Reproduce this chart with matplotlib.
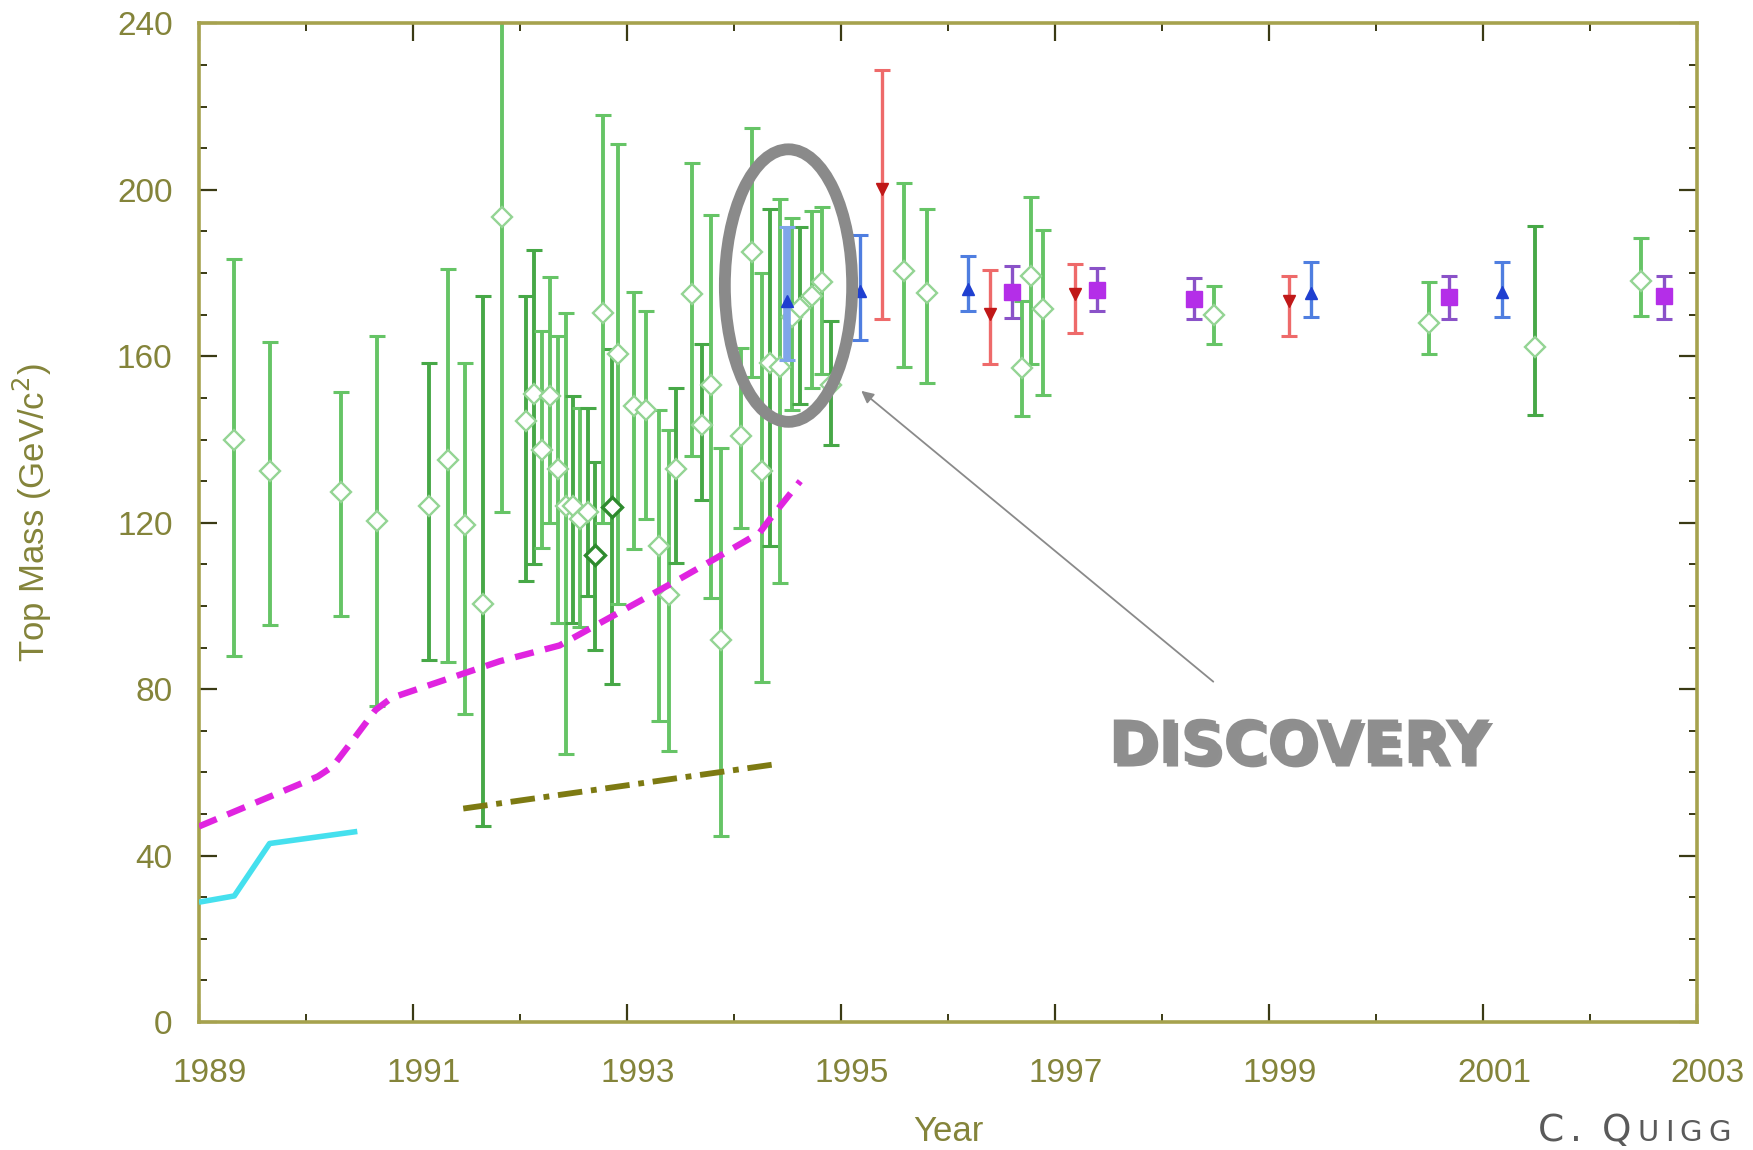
import numpy as np
import matplotlib
matplotlib.use("Agg")
import matplotlib.pyplot as plt
from matplotlib.patches import Ellipse
import matplotlib.patheffects as pe
import matplotlib.transforms as mtransforms
from matplotlib.ticker import MultipleLocator

# ---------------- data ----------------
green_year = [1989.33, 1989.66, 1990.33, 1990.66, 1991.15, 1991.33, 1991.49, 1991.65, 1991.83,
              1992.06, 1992.13, 1992.21, 1992.28, 1992.36, 1992.43, 1992.50, 1992.56, 1992.64,
              1992.70, 1992.78, 1992.86, 1992.92, 1993.07, 1993.18, 1993.30, 1993.39, 1993.46,
              1993.61, 1993.70, 1993.79, 1993.88, 1994.07, 1994.17, 1994.26, 1994.34, 1994.43,
              1994.54, 1994.62, 1994.73, 1994.82, 1994.91, 1995.59, 1995.80, 1996.69, 1996.78,
              1996.89, 1998.49, 2000.50, 2001.49, 2002.48]
green_mass = [140.0, 132.5, 127.5, 120.5, 124.0, 135.0, 119.5, 100.5, 193.5,
              144.5, 151.0, 137.5, 150.5, 133.0, 124.0, 124.0, 121.0, 122.5,
              112.3, 170.5, 123.7, 160.5, 148.0, 147.0, 114.3, 102.7, 133.0,
              175.0, 143.6, 153.0, 91.7, 140.8, 185.0, 132.5, 158.5, 157.5,
              169.5, 171.7, 174.5, 177.8, 153.0, 180.5, 175.3, 157.3, 179.3,
              171.3, 170.0, 168.0, 162.2, 178.2]
green_hi = [183.5, 163.5, 151.5, 165.0, 158.5, 181.0, 158.5, 174.5, 250.0,
            174.5, 185.5, 166.0, 179.0, 165.0, 170.5, 150.5, 147.5, 147.5,
            134.7, 218.0, 161.8, 211.0, 175.5, 171.0, 147.0, 142.4, 152.4,
            206.5, 163.0, 194.0, 138.0, 162.0, 214.8, 180.0, 195.5, 197.7,
            193.3, 191.0, 195.0, 196.0, 168.4, 201.6, 195.5, 173.3, 198.3,
            190.3, 177.0, 177.8, 191.2, 188.4]
green_lo = [88.0, 95.5, 97.5, 76.0, 87.0, 86.5, 74.0, 47.0, 122.5,
            106.0, 110.0, 114.0, 120.0, 96.0, 64.5, 96.0, 95.0, 102.5,
            89.4, 120.0, 81.2, 100.5, 113.7, 121.0, 72.3, 65.2, 110.4,
            136.0, 125.4, 102.0, 44.8, 118.7, 155.0, 81.8, 114.3, 105.5,
            147.0, 148.6, 152.4, 155.7, 138.6, 157.5, 153.5, 145.6, 158.1,
            150.8, 163.0, 160.6, 146.0, 169.8]
green_dark_bar = [0, 0, 0, 0, 1, 0, 0, 1, 0,
                  1, 1, 0, 0, 0, 0, 1, 0, 1,
                  1, 0, 1, 0, 0, 0, 0, 0, 1,
                  0, 1, 0, 0, 0, 0, 0, 1, 0,
                  0, 1, 0, 0, 1, 0, 0, 0, 0,
                  0, 0, 0, 1, 0]
green_dark_marker = [0] * 18 + [1, 0, 1] + [0] * 29

blue_year = [1994.50, 1995.18, 1996.19, 1999.39, 2001.18]
blue_mass = [173.4, 175.6, 176.1, 175.2, 175.4]
blue_hi = [191.0, 189.1, 184.0, 182.6, 182.6]
blue_lo = [159.0, 163.9, 170.9, 169.4, 169.4]

red_year = [1995.38, 1996.39, 1997.19, 1999.19]
red_mass = [200.2, 170.1, 174.9, 173.2]
red_hi = [228.7, 180.7, 182.1, 179.4]
red_lo = [169.0, 158.1, 165.5, 164.8]

purple_year = [1996.60, 1997.39, 1998.30, 2000.68, 2002.69]
purple_mass = [175.5, 175.9, 173.8, 174.2, 174.4]
purple_hi = [181.6, 181.2, 178.8, 179.4, 179.4]
purple_lo = [169.3, 171.0, 169.0, 169.0, 169.0]

cyan_year = [1989.0, 1989.33, 1989.66, 1990.48]
cyan_mass = [28.8, 30.3, 42.9, 45.8]

magenta_year = [1989.0, 1990.11, 1990.25, 1990.44, 1990.65, 1990.80, 1991.81, 1992.37,
                1992.72, 1993.15, 1993.50, 1993.84, 1994.24, 1994.34, 1994.62]
magenta_mass = [47.0, 59.0, 61.4, 67.8, 75.0, 77.9, 86.7, 90.5,
                95.5, 101.6, 106.6, 111.6, 117.6, 121.0, 130.0]

olive_year = [1991.47, 1994.40]
olive_mass = [51.3, 62.0]

x_ticks = [1989, 1991, 1993, 1995, 1997, 1999, 2001, 2003]
y_ticks = [0, 40, 80, 120, 160, 200, 240]

# annotation geometry
ring_center = (1994.51, 177.0)
ring_size = (1.19, 65.5)
arrow_head = (1995.19, 151.7)
arrow_tail = (1998.48, 81.8)
label_pos = (1999.28, 66.2)

# ---------------- drawing ----------------
plt.rcParams['font.family'] = ['Liberation Sans', 'DejaVu Sans']

fig = plt.figure(figsize=(17.53, 11.5), dpi=100)
ax = fig.add_axes([0.1135, 0.1113, 0.8545, 0.8683])

LIGHT = '#66c466'
DARK = '#47a847'

for i in range(len(green_year)):
    bar_c = DARK if green_dark_bar[i] else LIGHT
    m = green_mass[i]
    mk_edge = '#2e8b2e' if green_dark_marker[i] else '#94d494'
    mk_lw = 2.4 if green_dark_marker[i] else 1.7
    ax.errorbar([green_year[i]], [m], yerr=[[m - green_lo[i]], [green_hi[i] - m]],
                fmt='none', ecolor=bar_c, elinewidth=2.8, capsize=5.5, capthick=2.2,
                zorder=2)
    ax.plot([green_year[i]], [m], marker='D', ms=10.5, mfc='white', mec=mk_edge,
            mew=mk_lw, ls='none', zorder=3)

def group(xs, ys, his, los, bar_c, mk, mk_c, ms, lw=2.4, z=4):
    ys = np.asarray(ys)
    err = [ys - np.asarray(los), np.asarray(his) - ys]
    ax.errorbar(xs, ys, yerr=err, fmt='none', ecolor=bar_c, elinewidth=lw,
                capsize=5.5, capthick=2.2, zorder=z)
    ax.plot(xs, ys, marker=mk, ms=ms, color=mk_c, mec=mk_c, ls='none', zorder=z + 0.5)

# the wide light-blue bar inside the ring
ax.errorbar(blue_year[:1], blue_mass[:1],
            yerr=[[blue_mass[0] - blue_lo[0]], [blue_hi[0] - blue_mass[0]]],
            fmt='none', ecolor='#7fa6ea', elinewidth=5.5, capsize=5.5, capthick=2.2, zorder=4)
ax.plot(blue_year[:1], blue_mass[:1], marker='^', ms=8, color='#1f3fd0', ls='none', zorder=4.5)
group(blue_year[1:], blue_mass[1:], blue_hi[1:], blue_lo[1:], '#4f7ee0', '^', '#1f3fd0', 8)
group(red_year, red_mass, red_hi, red_lo, '#ee6a6a', 'v', '#c01818', 8)
group(purple_year, purple_mass, purple_hi, purple_lo, '#8a52c8', 's', '#b42ee8', 11)

# limit curves
ax.plot(cyan_year, cyan_mass, color='#45e0ee', lw=4.0, solid_capstyle='butt', zorder=5)
ax.plot(magenta_year, magenta_mass, color='#e024e0', lw=4.6, dashes=(3.0, 1.8),
        dash_capstyle='butt', zorder=5)
ax.plot(olive_year, olive_mass, color='#7d7a12', lw=4.2, dashes=(4.2, 1.5, 1.0, 1.5),
        dash_capstyle='butt', zorder=5)

# ring, arrow and label
ax.add_patch(Ellipse(ring_center, ring_size[0], ring_size[1], fill=False,
                     edgecolor='#8a8a8a', lw=8.5, zorder=8))
ax.annotate('', xy=arrow_head, xytext=arrow_tail,
            arrowprops=dict(arrowstyle='-|>', color='#8a8a8a', lw=1.3,
                            mutation_scale=18, shrinkA=0, shrinkB=0), zorder=8)
ax.text(label_pos[0], label_pos[1], 'DISCOVERY', ha='center', va='center',
        fontsize=43, fontweight='bold', family='DejaVu Sans', color='#8e8e8e',
        path_effects=[pe.withSimplePatchShadow(offset=(2.5, -2.5), shadow_rgbFace='#444444',
                                               alpha=0.6)], zorder=9)

# axes styling
ax.set_xlim(1989, 2003)
ax.set_ylim(0, 240)
ax.set_xticks(x_ticks)
ax.set_yticks(y_ticks)
ax.xaxis.set_minor_locator(MultipleLocator(1))
ax.yaxis.set_minor_locator(MultipleLocator(10))
ax.tick_params(which='both', direction='in', top=True, right=True, color='#3a3a14',
               labelcolor='#84843a', labelsize=24)
ax.tick_params(which='major', length=13, width=1.6)
ax.tick_params(which='minor', length=6, width=1.4)
ax.tick_params(axis='x', which='major', pad=26)
ax.tick_params(axis='y', which='major', pad=19)
for s in ax.spines.values():
    s.set_color('#a6a24e')
    s.set_linewidth(2.6)

offset = mtransforms.ScaledTranslation(0.11, 0, fig.dpi_scale_trans)
for lab in ax.get_xticklabels():
    lab.set_transform(lab.get_transform() + offset)

ax.set_xlabel('Year', fontsize=25, color='#84843a')
ax.set_ylabel('Top Mass (GeV/c$^2$)', fontsize=25, color='#84843a')
ax.xaxis.set_label_coords(0.5, -0.093)
ax.yaxis.set_label_coords(-0.097, 0.51)

# signature in small caps
fig.canvas.draw()
renderer = fig.canvas.get_renderer()
x_px = 1538
base_y = 1150 - 1141
for ch, fs in [('C', 27), ('.', 27), (' ', 27), ('Q', 27), ('U', 21), ('I', 21), ('G', 21), ('G', 21)]:
    t = fig.text(x_px / 1753, base_y / 1150, ch, fontsize=fs, color='#5a5a5a',
                 family='DejaVu Sans', ha='left', va='baseline')
    w = t.get_window_extent(renderer).width if ch != ' ' else 8
    x_px += w + 6

fig.savefig('out.png', dpi=100, facecolor='white')
